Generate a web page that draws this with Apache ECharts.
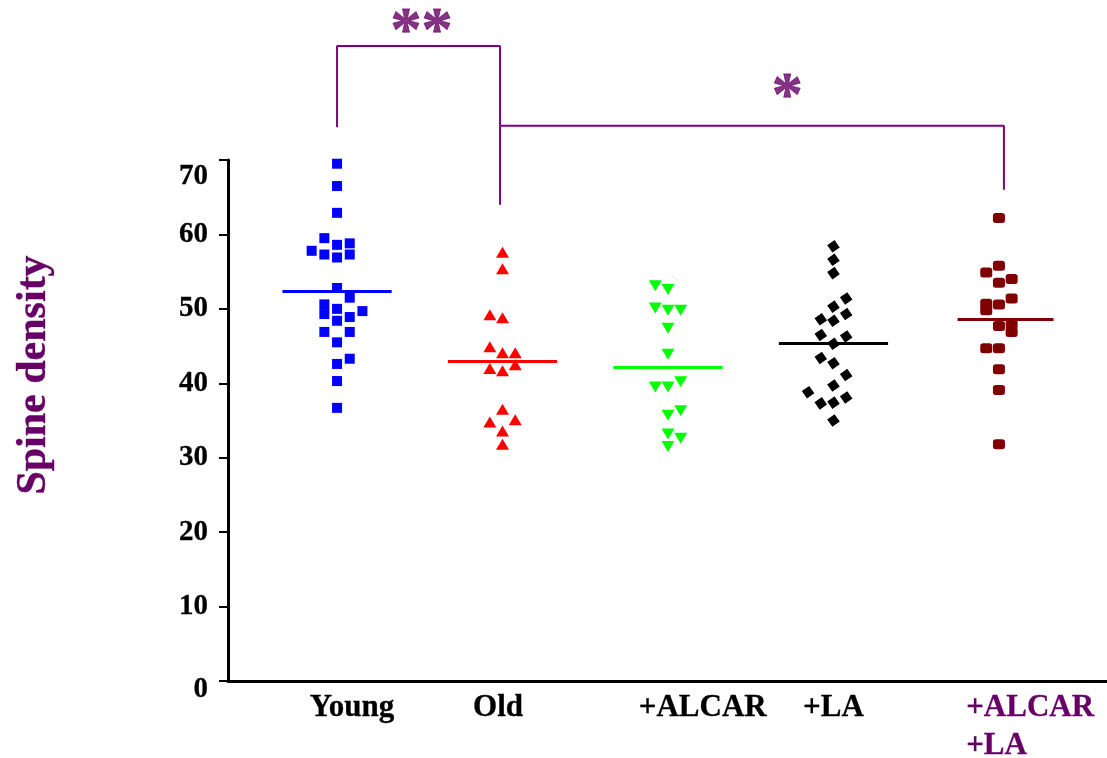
<!DOCTYPE html>
<html>
<head>
<meta charset="utf-8">
<script src="https://cdn.jsdelivr.net/npm/echarts@6/dist/echarts.min.js"></script>
<style>
  html, body { margin: 0; padding: 0; background: #fff; }
  #chart { width: 1107px; height: 758px; }
</style>
</head>
<body>
<div id="chart"></div>
<script>
// group names and the x position where each label sits (in group units)
const groups = ['Young', 'Old', '+ALCAR', '+LA', '+ALCAR\n+LA']
const labelPos = [0.09, 0.973, 2.21, 3.0, 4.21]

// each point: [column slot inside the group, spine density]
const young = [
  [0, 69.5], [0, 66.5], [0, 62.9], [-1, 59.5], [1, 58.8], [0, 58.6], [-2, 57.8],
  [-1, 57.3], [1, 57.3], [0, 56.9], [0, 52.8], [1, 51.5], [-1, 50.6], [-1, 49.3],
  [0, 50.0], [2, 49.7], [1, 48.9], [0, 48.4], [-1, 46.9], [1, 46.9], [0, 45.5],
  [1, 43.3], [0, 42.6], [0, 40.3], [0, 36.7]
]
const old = [
  [0, 57.6], [0, 55.4], [-1, 49.2], [0, 48.8], [-1, 44.9], [0, 44.1], [1, 44.1],
  [-1, 42.0], [0, 41.7], [1, 42.5], [0, 36.5], [-1, 34.8], [1, 35.1], [0, 33.6], [0, 31.8]
]
const alcar = [
  [-1, 53.1], [0, 52.6], [-1, 50.1], [0, 49.8], [1, 49.8], [0, 47.4], [0, 43.9],
  [1, 40.2], [-1, 39.5], [0, 39.5], [1, 36.3], [0, 35.7], [0, 33.2], [1, 32.6], [0, 31.5]
]
const la = [
  [0, 58.4], [0, 56.6], [0, 54.8], [1, 51.4], [0, 50.3], [1, 49.3], [-1, 48.6],
  [0, 48.4], [-1, 46.5], [1, 46.3], [0, 45.3], [-1, 43.4], [0, 42.7], [1, 41.1],
  [0, 39.7], [-2, 38.8], [1, 38.1], [-1, 37.3], [0, 37.4], [0, 35.0]
]
const alcarLa = [
  [0, 62.2], [0, 55.8], [-1, 54.9], [1, 54.0], [0, 53.5], [1, 51.4], [-1, 50.7],
  [-1, 49.8], [0, 50.6], [0, 47.7], [1, 47.9], [1, 46.9], [-1, 44.7], [0, 44.7],
  [0, 41.9], [0, 39.1], [0, 31.8]
]
const means = [52.4, 42.9, 42.2, 45.4, 48.6]

// significance brackets [x, y] and star labels
const bracketA = [[0, 74.4], [0, 85.3], [0.985, 85.3], [0.985, 64.0]]
const bracketB = [[0.985, 74.6], [4.03, 74.6], [4.03, 66.0]]
const stars = [[0.51, 87.0, '**'], [2.72, 78.3, '*']]

const slotStep = 0.0767
const purple = '#660066'
const font = 'Liberation Serif'

const groupStyles = [
  { data: young, color: '#0000ff', symbol: 'rect', size: 10, rotate: 0 },
  { data: old, color: '#ff0000', symbol: 'triangle', size: [13, 11], rotate: 0 },
  { data: alcar, color: '#00ff00', symbol: 'triangle', size: [13, 11], rotate: 180 },
  { data: la, color: '#000000', symbol: 'rect', size: 9, rotate: 35 },
  { data: alcarLa, color: '#800000', symbol: 'roundRect', size: [12, 10], rotate: 0 }
]

const myChart = echarts.init(document.getElementById('chart'), null, { renderer: 'canvas' })

const pointSeries = groupStyles.map((g, i) => ({
  name: groups[i],
  type: 'scatter',
  symbol: g.symbol,
  symbolSize: g.size,
  symbolRotate: g.rotate,
  itemStyle: { color: g.color, opacity: 1 },
  data: g.data.map(p => [i + p[0] * slotStep, p[1]]),
  markLine: {
    silent: true,
    symbol: 'none',
    label: { show: false },
    lineStyle: { color: g.color, width: 3, type: 'solid' },
    data: [[
      { coord: [i - (i === 4 ? 0.25 : 0.33), means[i]] },
      { coord: [i + 0.33, means[i]] }
    ]]
  }
}))

// bold serif text, a touch heavier like the original slide
const boldText = (size, color) => ({
  fontFamily: font,
  fontWeight: 'bold',
  fontSize: size,
  color: color,
  textBorderColor: color,
  textBorderWidth: 0.3
})

const option = {
  animation: false,
  grid: { left: 228, right: 0, top: 160, bottom: 77, outerBoundsMode: 'none' },
  xAxis: {
    type: 'value',
    min: -0.659,
    max: 4.653,
    splitLine: { show: false },
    axisTick: { show: false },
    axisLine: { onZero: false, lineStyle: { color: '#000', width: 3 } },
    axisLabel: {
      customValues: labelPos,
      margin: 8,
      formatter: function (v) {
        const i = Math.round(v)
        if (i === 4) return '{p|+ALCAR}\n{p|+LA}'
        return '{k|' + groups[i] + '}'
      },
      rich: {
        k: Object.assign(boldText(31, '#000'), { lineHeight: 38 }),
        p: Object.assign(boldText(31, purple), { lineHeight: 38, width: 135, align: 'left' })
      }
    }
  },
  yAxis: {
    type: 'value',
    min: 0,
    max: 70,
    interval: 10,
    splitLine: { show: false },
    axisLine: { show: true, onZero: false, lineStyle: { color: '#000', width: 3 } },
    axisTick: { show: true, length: 9, lineStyle: { color: '#000', width: 2 } },
    axisLabel: {
      margin: 20,
      formatter: function (v) {
        if (v === 70) return '{t|70}'
        if (v === 0) return '{b|0}'
        return '{n|' + v + '}'
      },
      rich: {
        n: boldText(29, '#000'),
        t: Object.assign(boldText(29, '#000'), { padding: [34, 0, 0, 0] }),
        b: Object.assign(boldText(29, '#000'), { padding: [18, 0, 0, 0] })
      }
    }
  },
  graphic: [{
    type: 'text',
    x: 34,
    y: 375,
    rotation: Math.PI / 2,
    style: {
      text: 'Spine density',
      fill: purple,
      fontFamily: font,
      fontWeight: 'bold',
      fontSize: 42,
      stroke: purple,
      lineWidth: 0.4,
      align: 'center',
      verticalAlign: 'middle'
    }
  }],
  series: pointSeries.concat([
    {
      type: 'line',
      clip: false,
      silent: true,
      symbol: 'none',
      lineStyle: { color: '#800080', width: 2 },
      data: bracketA
    },
    {
      type: 'line',
      clip: false,
      silent: true,
      symbol: 'none',
      lineStyle: { color: '#800080', width: 2 },
      data: bracketB
    },
    {
      type: 'scatter',
      clip: false,
      silent: true,
      symbolSize: 0,
      data: stars,
      label: Object.assign({
        show: true,
        position: 'inside',
        formatter: p => p.data[2]
      }, boldText(62, purple), { textBorderWidth: 0.8 })
    }
  ])
}

myChart.setOption(option)
window.addEventListener('resize', () => {
  if (myChart) {
    myChart.resize()
  }
})
</script>
</body>
</html>
